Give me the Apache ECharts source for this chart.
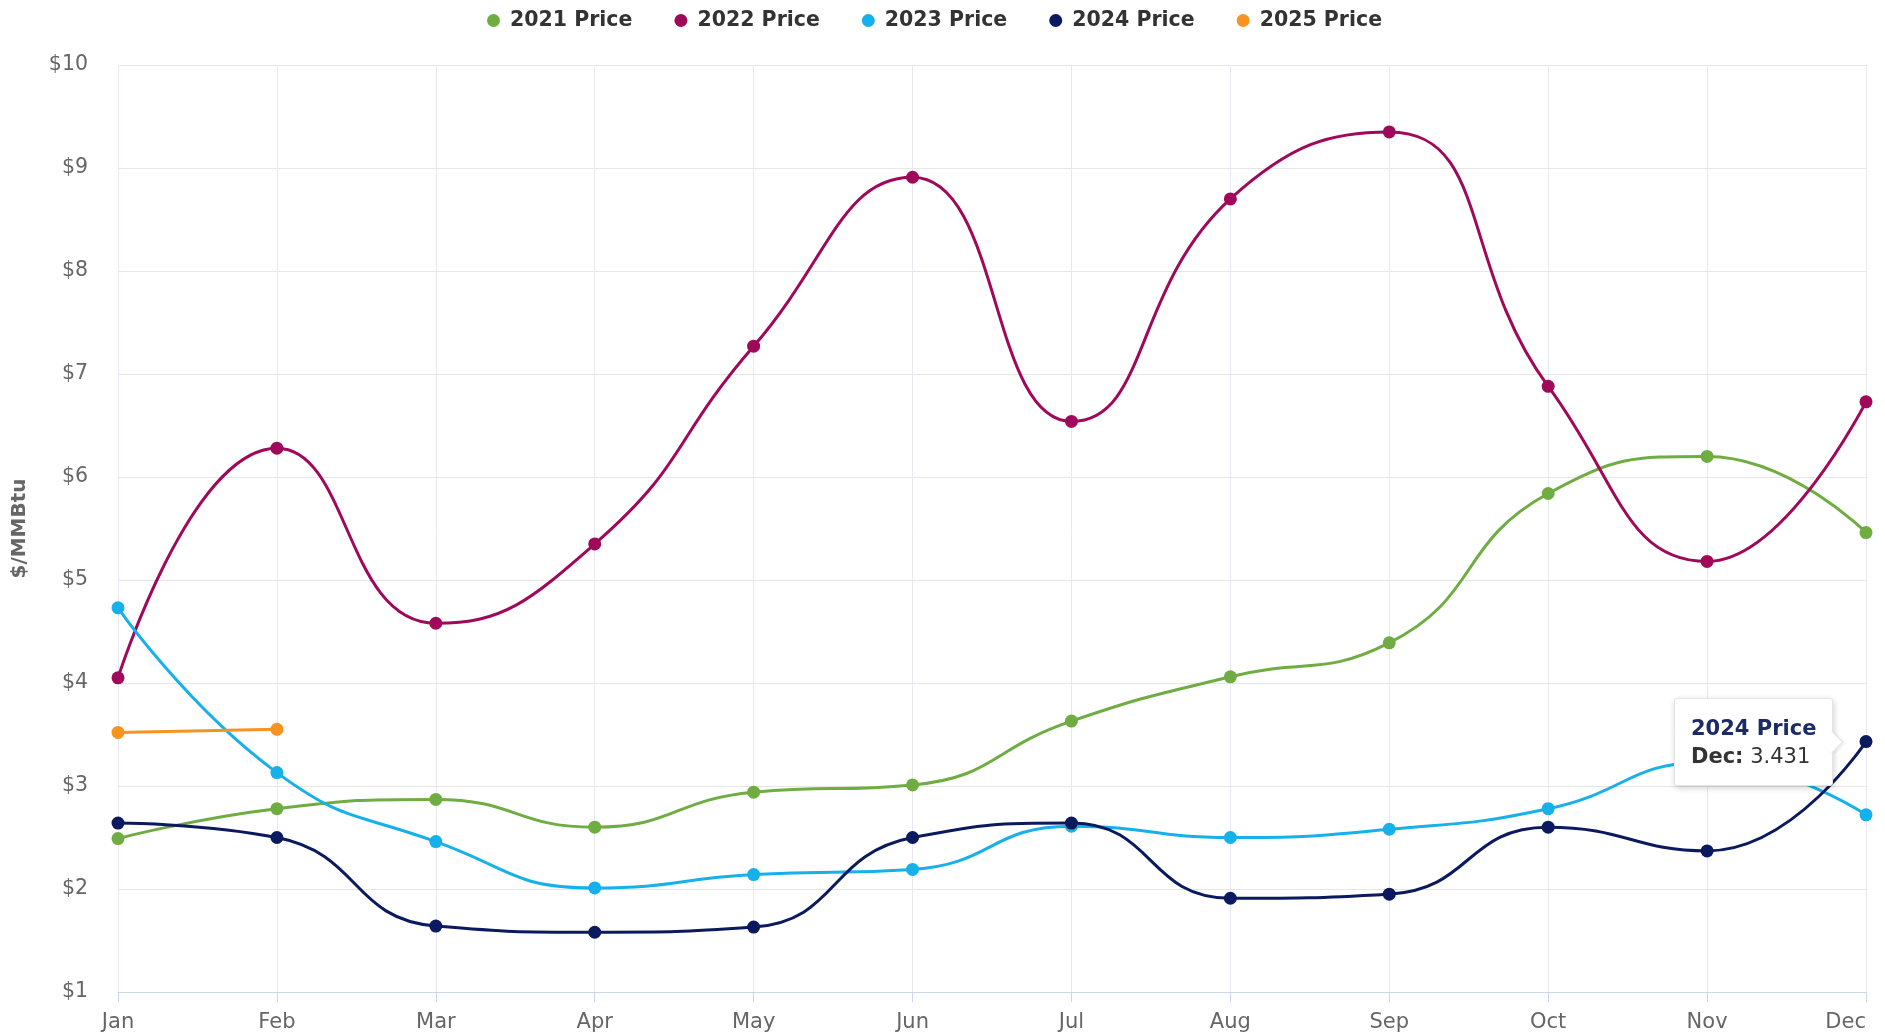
<!DOCTYPE html>
<html>
<head>
<meta charset="utf-8">
<title>Monthly Price</title>
<script src="https://cdn.jsdelivr.net/npm/echarts@6/dist/echarts.min.js"></script>
<style>
  html, body { margin: 0; padding: 0; background: #fff; }
  #chart { width: 1885px; height: 1036px; }
</style>
</head>
<body>
<div id="chart"></div>
<script>
// values ($/MMBtu)
const months = ['Jan', 'Feb', 'Mar', 'Apr', 'May', 'Jun', 'Jul', 'Aug', 'Sep', 'Oct', 'Nov', 'Dec'];
const price2021 = [2.49, 2.78, 2.87, 2.60, 2.94, 3.01, 3.63, 4.06, 4.39, 5.84, 6.20, 5.46];
const price2022 = [4.05, 6.28, 4.58, 5.35, 7.27, 8.91, 6.54, 8.70, 9.35, 6.88, 5.18, 6.73];
const price2023 = [4.73, 3.13, 2.46, 2.01, 2.14, 2.19, 2.61, 2.50, 2.58, 2.78, 3.23, 2.72];
const price2024 = [2.64, 2.50, 1.64, 1.58, 1.63, 2.50, 2.64, 1.91, 1.95, 2.60, 2.37, 3.431];
const price2025 = [3.52, 3.55];
const yTicks = [1, 2, 3, 4, 5, 6, 7, 8, 9, 10];

const seriesNames = ['2021 Price', '2022 Price', '2023 Price', '2024 Price', '2025 Price'];
const seriesColors = ['#6fad43', '#a0085a', '#16b0ea', '#0b1a5e', '#f7931e'];
const seriesData = [price2021, price2022, price2023, price2024, price2025];

const FONT = 'DejaVu Sans';

var chart = echarts.init(document.getElementById('chart'));

var option = {
  animation: false,
  textStyle: { fontFamily: FONT },
  legend: {
    top: 5,
    left: 482,
    icon: 'circle',
    itemWidth: 13,
    itemHeight: 13,
    itemGap: 42,
    data: seriesNames,
    textStyle: {
      fontFamily: FONT, fontSize: 20.5, fontWeight: 'bold', color: '#333',
      padding: [0, 0, 0, 5]
    }
  },
  grid: {
    left: 118,
    right: 19,
    top: 65,
    bottom: 44
  },
  tooltip: {
    trigger: 'item',
    triggerOn: 'none',
    alwaysShowContent: true,
    transitionDuration: 0,
    position: function (point, params, dom, rect, size) {
      return [point[0] - size.contentSize[0] - 33, point[1] - size.contentSize[1] / 2];
    },
    backgroundColor: '#fff',
    borderColor: '#e4e4e4',
    borderWidth: 1,
    padding: [15, 16],
    extraCssText: 'box-shadow: 1px 2px 6px rgba(0,0,0,0.18); border-radius: 3px;',
    textStyle: { fontFamily: FONT, fontSize: 21, lineHeight: 28, color: '#333' },
    formatter: function (p) {
      // little pointer on the right side, like the original
      var arrow = '<span style="position:absolute;right:-8px;top:50%;margin-top:-8px;' +
        'width:15px;height:15px;background:#fff;transform:rotate(45deg);' +
        'border-top:1px solid #e4e4e4;border-right:1px solid #e4e4e4;' +
        'box-shadow:2px -1px 3px rgba(0,0,0,0.08);"></span>';
      return arrow + '<b style="color:#1c2a66">' + p.seriesName + '</b><br/>' +
        '<b>' + p.name + ':</b> ' + p.value;
    }
  },
  xAxis: {
    type: 'category',
    boundaryGap: false,
    data: months,
    axisLine: { lineStyle: { color: '#ccd6eb', width: 1 } },
    axisTick: { show: true, length: 10, alignWithLabel: true, lineStyle: { color: '#ccd6eb' } },
    splitLine: { show: true, lineStyle: { color: '#e6e9ef' } },
    axisLabel: {
      fontFamily: FONT,
      fontSize: 21,
      color: '#666',
      margin: 20,
      alignMaxLabel: 'right'
    }
  },
  yAxis: {
    type: 'value',
    min: yTicks[0],
    max: yTicks[yTicks.length - 1],
    interval: 1,
    name: '$/MMBtu',
    nameLocation: 'middle',
    nameGap: 88,
    nameTextStyle: { fontFamily: FONT, fontSize: 20, fontWeight: 'bold', color: '#666' },
    axisLine: { show: false },
    axisTick: { show: false },
    splitLine: { lineStyle: { color: '#e6e6e6' } },
    axisLabel: {
      fontFamily: FONT,
      fontSize: 20.5,
      color: '#666',
      margin: 30,
      padding: [4, 0, 0, 0],
      formatter: function (v) { return '$' + v; }
    }
  },
  series: seriesNames.map(function (name, i) {
    return {
      name: name,
      type: 'line',
      smooth: 0.5,
      data: seriesData[i],
      symbol: 'circle',
      symbolSize: 13,
      showSymbol: true,
      color: seriesColors[i],
      lineStyle: { width: 3, color: seriesColors[i] },
      itemStyle: { color: seriesColors[i] },
      emphasis: { disabled: true }
    };
  })
};

chart.setOption(option);

// the reference shows the tooltip for 2024 Dec
chart.dispatchAction({ type: 'showTip', seriesIndex: 3, dataIndex: 11 });
</script>
</body>
</html>
